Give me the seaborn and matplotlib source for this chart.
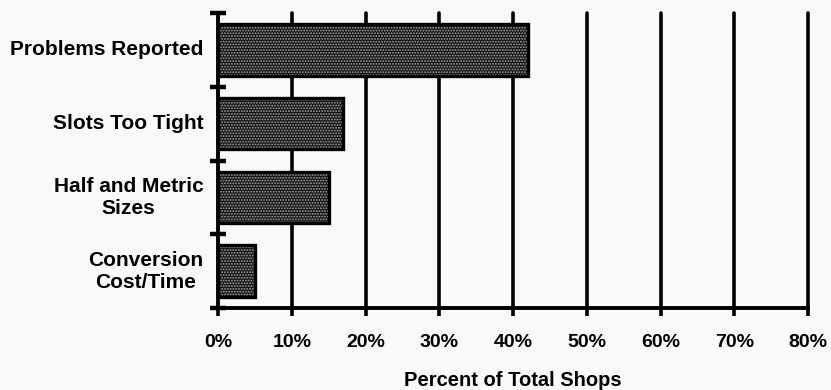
import matplotlib
matplotlib.use("Agg")
import matplotlib.pyplot as plt
from matplotlib.patches import Rectangle
import seaborn as sns
import pandas as pd

# Shop survey results
categories = ["Problems Reported", "Slots Too Tight", "Half and Metric\nSizes", "Conversion\nCost/Time"]
percent_of_shops = [42, 17, 15, 5]
x_ticks = [0, 10, 20, 30, 40, 50, 60, 70, 80]
x_tick_labels = ["0%", "10%", "20%", "30%", "40%", "50%", "60%", "70%", "80%"]

df = pd.DataFrame({"category": categories, "percent": percent_of_shops})

sns.set_style("white")
plt.rcParams["font.family"] = ["Liberation Sans", "DejaVu Sans"]
plt.rcParams["font.weight"] = "bold"
plt.rcParams["text.color"] = "black"
plt.rcParams["xtick.color"] = "black"
plt.rcParams["ytick.color"] = "black"
plt.rcParams["hatch.linewidth"] = 0.9

bg = "#f9f9f9"
fig = plt.figure(figsize=(8.31, 3.90), dpi=100, facecolor=bg)
ax = fig.add_axes([218 / 831, 1 - 308 / 390, (808 - 218) / 831, (308 - 13) / 390])
ax.set_facecolor(bg)

sns.barplot(data=df, x="percent", y="category", orient="h", width=0.7,
            color="#111111", saturation=1, ax=ax, zorder=3)

# stippled fill with a heavy black outline
for p in ax.patches:
    p.set_hatch("......")
    p.set_edgecolor("#a8a8a8")
    p.set_linewidth(0)
    ax.add_patch(Rectangle(p.get_xy(), p.get_width(), p.get_height(),
                           fill=False, edgecolor="black", linewidth=2.4, zorder=4))

ax.set_xlim(0, 80)
ax.set_ylim(3.5, -0.5)

# vertical gridlines
for v in x_ticks[1:]:
    ax.axvline(v, color="black", linewidth=2.6, zorder=2, clip_on=False)

for s in ["top", "right"]:
    ax.spines[s].set_visible(False)
for s in ["left", "bottom"]:
    ax.spines[s].set_color("black")
    ax.spines[s].set_linewidth(2.8)
    ax.spines[s].set_zorder(5)

ax.set_xticks(x_ticks)
ax.set_xticklabels(x_tick_labels, fontsize=14, fontweight="bold", color="black")
ax.tick_params(axis="x", bottom=True, direction="out", length=6, width=2.6,
               color="black", pad=13)

# category boundaries as y ticks, labels centred between them
ax.set_yticks([-0.5, 0.5, 1.5, 2.5, 3.5])
ax.set_yticklabels([])
ax.tick_params(axis="y", left=True, direction="inout", length=12, width=3.2, color="black")
for i, c in enumerate(categories):
    ax.text(-2.0, i, c, ha="right", va="center", multialignment="center",
            fontsize=15, fontweight="bold", linespacing=1.2, color="black")

ax.set_ylabel("")
ax.set_xlabel("Percent of Total Shops", fontsize=14.5, fontweight="bold", color="black")
ax.xaxis.set_label_coords(0.5, -0.215)

fig.savefig("out.png", dpi=100, facecolor=bg)
